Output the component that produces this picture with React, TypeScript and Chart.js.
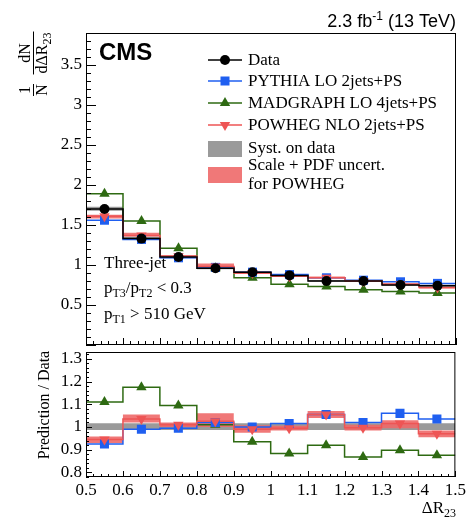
import React, { useEffect, useRef } from 'react';
import { Chart, registerables } from 'chart.js';
Chart.register(...registerables);

const SERIF = '"Liberation Serif", "DejaVu Serif", serif';
const SANS = '"Liberation Sans", Arial, sans-serif';

// ---- data ----
const binEdges = [0.5, 0.6, 0.7, 0.8, 0.9, 1.0, 1.1, 1.2, 1.3, 1.4, 1.5];
const binCenters = [0.55, 0.65, 0.75, 0.85, 0.95, 1.05, 1.15, 1.25, 1.35, 1.45];

const dataVals = [1.70, 1.33, 1.10, 0.96, 0.91, 0.87, 0.80, 0.80, 0.75, 0.74];
const pythiaVals = [1.56, 1.32, 1.09, 0.97, 0.91, 0.88, 0.84, 0.81, 0.79, 0.77];
const madgraphVals = [1.89, 1.55, 1.21, 0.96, 0.84, 0.76, 0.73, 0.69, 0.67, 0.65];
const powhegVals = [1.61, 1.37, 1.11, 0.98, 0.90, 0.86, 0.84, 0.80, 0.76, 0.72];

const systLo = [0.987, 0.987, 0.987, 0.987, 0.987, 0.987, 0.987, 0.987, 0.987, 0.987];
const systHi = [1.017, 1.017, 1.017, 1.017, 1.017, 1.017, 1.017, 1.017, 1.017, 1.017];

const pythiaRatio = [0.925, 0.99, 0.995, 1.02, 1.0, 1.015, 1.055, 1.02, 1.06, 1.035];
const madgraphRatio = [1.11, 1.175, 1.095, 1.01, 0.935, 0.883, 0.92, 0.868, 0.898, 0.876];
const powhegRatio = [0.945, 1.035, 1.01, 1.025, 0.99, 0.995, 1.055, 0.997, 1.015, 0.97];
const powhegBandLo = [0.93, 1.02, 1.0, 1.0, 0.975, 0.985, 1.04, 0.985, 0.995, 0.955];
const powhegBandHi = [0.958, 1.055, 1.02, 1.06, 1.008, 1.005, 1.07, 1.01, 1.03, 0.985];

const topYTicks = [0.5, 1, 1.5, 2, 2.5, 3, 3.5];
const ratioYTicks = [0.8, 0.9, 1, 1.1, 1.2, 1.3];
const xTicks = [0.5, 0.6, 0.7, 0.8, 0.9, 1, 1.1, 1.2, 1.3, 1.4, 1.5];

// ---- styles ----
const C_DATA = '#000000';
const C_PY = '#1f5ff0';
const C_MG = '#2e6a12';
const C_PW = '#ee5555';
const C_BAND = 'rgba(238,105,105,0.9)';
const C_GRAY = '#9a9a9a';

const stepPoints = (vals: number[]) =>
  binEdges.map((x, i) => ({ x, y: vals[Math.min(i, vals.length - 1)] }));
const markerPoints = (vals: number[]) => binCenters.map((x, i) => ({ x, y: vals[i] }));

type Seg = { t: string; size: number; dy?: number; bold?: boolean; fam?: string };

function drawRich(ctx: CanvasRenderingContext2D, segs: Seg[], x: number, y: number, align = 'left', fam = SERIF) {
  let total = 0;
  const widths = segs.map((s) => {
    ctx.font = `${s.bold ? 'bold ' : ''}${s.size}px ${s.fam || fam}`;
    const w = ctx.measureText(s.t).width;
    total += w;
    return w;
  });
  let cx = align === 'right' ? x - total : align === 'center' ? x - total / 2 : x;
  ctx.textAlign = 'left';
  segs.forEach((s, i) => {
    ctx.font = `${s.bold ? 'bold ' : ''}${s.size}px ${s.fam || fam}`;
    ctx.fillText(s.t, cx, y + (s.dy || 0));
    cx += widths[i];
  });
  return total;
}

function drawMarker(ctx: CanvasRenderingContext2D, shape: string, x: number, y: number, color: string) {
  ctx.fillStyle = color;
  ctx.beginPath();
  if (shape === 'circle') {
    ctx.arc(x, y, 5, 0, Math.PI * 2);
  } else if (shape === 'rect') {
    ctx.rect(x - 4.5, y - 4.5, 9, 9);
  } else if (shape === 'up') {
    const r = 6;
    ctx.moveTo(x, y - r);
    ctx.lineTo(x + r * 0.866, y + r / 2);
    ctx.lineTo(x - r * 0.866, y + r / 2);
    ctx.closePath();
  } else {
    const r = 6;
    ctx.moveTo(x, y + r);
    ctx.lineTo(x + r * 0.866, y - r / 2);
    ctx.lineTo(x - r * 0.866, y - r / 2);
    ctx.closePath();
  }
  ctx.fill();
}

function line(ctx: CanvasRenderingContext2D, x1: number, y1: number, x2: number, y2: number) {
  ctx.beginPath();
  ctx.moveTo(x1, y1);
  ctx.lineTo(x2, y2);
  ctx.stroke();
}

function frameAndTicks(chart: any, yMinor: number, yMajorEvery: number, yLen: [number, number], xLen: [number, number]) {
  const { ctx, chartArea: a, scales } = chart;
  ctx.save();
  ctx.strokeStyle = '#000';
  ctx.lineWidth = 1;
  ctx.strokeRect(a.left + 0.5, a.top + 0.5, a.right - a.left - 1, a.bottom - a.top - 1);
  const ys = scales.y;
  const yStart = Math.ceil(ys.min / yMinor - 1e-6);
  const yEnd = Math.floor(ys.max / yMinor + 1e-6);
  for (let k = yStart; k <= yEnd; k++) {
    const y = Math.round(ys.getPixelForValue(k * yMinor)) + 0.5;
    const len = k % yMajorEvery === 0 ? yLen[0] : yLen[1];
    line(ctx, a.left, y, a.left + len, y);
  }
  const xs = scales.x;
  for (let k = 0; k <= 50; k++) {
    const x = Math.round(xs.getPixelForValue(0.5 + k * 0.02)) + 0.5;
    const len = k % 5 === 0 ? xLen[0] : xLen[1];
    line(ctx, x, a.bottom, x, a.bottom - len);
  }
  ctx.restore();
}

function bandSets(lo: number[], hi: number[], color: string, order: number) {
  return [
    { type: 'line', data: stepPoints(lo), stepped: 'before', borderWidth: 0, pointRadius: 0, fill: false, order },
    { type: 'line', data: stepPoints(hi), stepped: 'before', borderWidth: 0, pointRadius: 0, fill: '-1', backgroundColor: color, order },
  ];
}
function stepSet(vals: number[], color: string, order: number, width = 1.5) {
  return { type: 'line', data: stepPoints(vals), stepped: 'before', borderColor: color, borderWidth: width, pointRadius: 0, fill: false, order };
}
function markerSet(vals: number[], color: string, style: string, radius: number, rotation: number, order: number) {
  return {
    type: 'line', data: markerPoints(vals), showLine: false, pointStyle: style, pointRadius: radius,
    pointRotation: rotation, pointBackgroundColor: color, pointBorderColor: color, pointBorderWidth: 0, order,
  };
}

const topTextPlugin = {
  id: 'topText',
  afterDraw(chart: any) {
    frameAndTicks(chart, 0.1, 5, [10, 5], [7, 4]);
    const ctx: CanvasRenderingContext2D = chart.ctx;
    ctx.save();
    ctx.fillStyle = '#000';
    ctx.textBaseline = 'alphabetic';
    drawRich(ctx, [
      { t: '2.3 fb', size: 18 },
      { t: '-1', size: 12, dy: -7 },
      { t: ' (13 TeV)', size: 18 },
    ], 456, 27, 'right', SANS);
    drawRich(ctx, [{ t: 'CMS', size: 24, bold: true }], 99, 60, 'left', SANS);
    ctx.save();
    ctx.translate(33, 64);
    ctx.rotate(-Math.PI / 2);
    ctx.strokeStyle = '#000';
    ctx.lineWidth = 1;
    drawRich(ctx, [{ t: '1', size: 16 }], -26, -3, 'center');
    drawRich(ctx, [{ t: 'N', size: 16 }], -26, 14, 'center');
    line(ctx, -32, 0.5, -20, 0.5);
    drawRich(ctx, [{ t: 'dN', size: 16 }], 11, -3, 'center');
    const w = drawRich(ctx, [{ t: 'dΔR', size: 16 }, { t: '23', size: 12, dy: 4 }], 11, 14, 'center');
    line(ctx, 11 - w / 2 - 1, 0.5, 11 + w / 2 + 1, 0.5);
    ctx.restore();

    const lx0 = 208, lx1 = 242, mx = 225, tx = 248;
    const entries: [string, string, string, number][] = [
      ['Data', C_DATA, 'circle', 60],
      ['PYTHIA LO 2jets+PS', C_PY, 'rect', 81],
      ['MADGRAPH LO 4jets+PS', C_MG, 'up', 103],
      ['POWHEG NLO 2jets+PS', C_PW, 'down', 125],
    ];
    entries.forEach(([label, color, shape, y]) => {
      ctx.strokeStyle = color;
      ctx.lineWidth = 1.5;
      line(ctx, lx0, y, lx1, y);
      drawMarker(ctx, shape, mx, y, color);
      ctx.fillStyle = '#000';
      ctx.textBaseline = 'middle';
      drawRich(ctx, [{ t: label, size: 17 }], tx, y + 1);
    });
    ctx.fillStyle = C_GRAY;
    ctx.fillRect(lx0, 141, lx1 - lx0, 16);
    ctx.fillStyle = C_BAND;
    ctx.fillRect(lx0, 167, lx1 - lx0, 16);
    ctx.fillStyle = '#000';
    ctx.textBaseline = 'middle';
    drawRich(ctx, [{ t: 'Syst. on data', size: 17 }], tx, 149);
    drawRich(ctx, [{ t: 'Scale + PDF uncert.', size: 17 }], tx, 166);
    drawRich(ctx, [{ t: 'for POWHEG', size: 17 }], tx, 185);

    ctx.textBaseline = 'alphabetic';
    drawRich(ctx, [{ t: 'Three-jet', size: 17 }], 104, 268);
    drawRich(ctx, [
      { t: 'p', size: 17 }, { t: 'T3', size: 12, dy: 4 }, { t: '/p', size: 17 }, { t: 'T2', size: 12, dy: 4 },
      { t: ' < 0.3', size: 17 },
    ], 104, 293);
    drawRich(ctx, [
      { t: 'p', size: 17 }, { t: 'T1', size: 12, dy: 4 }, { t: ' > 510 GeV', size: 17 },
    ], 104, 319);
    ctx.restore();
  },
};

const bottomTextPlugin = {
  id: 'bottomText',
  afterDraw(chart: any) {
    frameAndTicks(chart, 0.02, 5, [6, 3], [6, 3]);
    const ctx: CanvasRenderingContext2D = chart.ctx;
    ctx.save();
    ctx.fillStyle = '#000';
    ctx.textBaseline = 'alphabetic';
    ctx.save();
    ctx.translate(49, 405);
    ctx.rotate(-Math.PI / 2);
    drawRich(ctx, [{ t: 'Prediction / Data', size: 16 }], 0, 0, 'center');
    ctx.restore();
    drawRich(ctx, [{ t: 'ΔR', size: 17 }, { t: '23', size: 12, dy: 4 }], 456, 513, 'right');
    ctx.restore();
  },
};

export default function App() {
  const topRef = useRef<HTMLCanvasElement>(null);
  const botRef = useRef<HTMLCanvasElement>(null);

  useEffect(() => {
    const top = new Chart(topRef.current as HTMLCanvasElement, {
      type: 'line',
      data: {
        datasets: [
          ...bandSets(dataVals.map((v, i) => v * systLo[i]), dataVals.map((v, i) => v * systHi[i]), C_GRAY, 20),
          ...bandSets(dataVals.map((v, i) => v * powhegBandLo[i]), dataVals.map((v, i) => v * powhegBandHi[i]), C_BAND, 19),
          stepSet(madgraphVals, C_MG, 10),
          stepSet(pythiaVals, C_PY, 9),
          stepSet(powhegVals, C_PW, 8),
          stepSet(dataVals, C_DATA, 7),
          markerSet(madgraphVals, C_MG, 'triangle', 6, 0, 5),
          markerSet(pythiaVals, C_PY, 'rect', 6.4, 0, 4),
          markerSet(powhegVals, C_PW, 'triangle', 6, 180, 3),
          markerSet(dataVals, C_DATA, 'circle', 5, 0, 1),
        ] as any,
      },
      options: {
        responsive: false,
        animation: false,
        devicePixelRatio: 1,
        events: [],
        layout: { padding: { top: 33, bottom: 186, left: 0, right: 13 } },
        plugins: { legend: { display: false }, tooltip: { enabled: false } },
        scales: {
          x: { type: 'linear', min: 0.5, max: 1.5, display: false },
          y: {
            type: 'linear', min: 0, max: 3.9,
            grid: { display: false, drawTicks: false },
            border: { display: false },
            afterBuildTicks: (s: any) => { s.ticks = topYTicks.map((v) => ({ value: v })); },
            afterFit: (s: any) => { s.width = 86; },
            ticks: { font: { family: SERIF, size: 17 }, color: '#000', padding: 4, callback: (v: any) => String(v) },
          },
        },
      } as any,
      plugins: [topTextPlugin],
    });

    const bot = new Chart(botRef.current as HTMLCanvasElement, {
      type: 'line',
      data: {
        datasets: [
          ...bandSets(systLo, systHi, C_GRAY, 20),
          ...bandSets(powhegBandLo, powhegBandHi, C_BAND, 19),
          stepSet(madgraphRatio, C_MG, 10),
          stepSet(pythiaRatio, C_PY, 9),
          stepSet(powhegRatio, C_PW, 8),
          markerSet(madgraphRatio, C_MG, 'triangle', 6, 0, 5),
          markerSet(pythiaRatio, C_PY, 'rect', 6.4, 0, 4),
          markerSet(powhegRatio, C_PW, 'triangle', 6, 180, 3),
        ] as any,
      },
      options: {
        responsive: false,
        animation: false,
        devicePixelRatio: 1,
        events: [],
        layout: { padding: { top: 352, bottom: 0, left: 0, right: 13 } },
        plugins: { legend: { display: false }, tooltip: { enabled: false } },
        scales: {
          x: {
            type: 'linear', min: 0.5, max: 1.5,
            grid: { display: false, drawTicks: false },
            border: { display: false },
            afterBuildTicks: (s: any) => { s.ticks = xTicks.map((v) => ({ value: v })); },
            afterFit: (s: any) => { s.height = 54; },
            ticks: { font: { family: SERIF, size: 17 }, color: '#000', padding: 3, autoSkip: false, maxRotation: 0, minRotation: 0, callback: (v: any) => String(v) },
          },
          y: {
            type: 'linear', min: 0.78, max: 1.33,
            grid: { display: false, drawTicks: false },
            border: { display: false },
            afterBuildTicks: (s: any) => { s.ticks = ratioYTicks.map((v) => ({ value: v })); },
            afterFit: (s: any) => { s.width = 86; },
            ticks: { font: { family: SERIF, size: 17 }, color: '#000', padding: 4, callback: (v: any) => String(v) },
          },
        },
      } as any,
      plugins: [bottomTextPlugin],
    });

    return () => {
      top.destroy();
      bot.destroy();
    };
  }, []);

  const cs: React.CSSProperties = { position: 'absolute', left: 0, top: 0, width: 469, height: 531 };
  return (
    <div style={{ position: 'fixed', left: 0, top: 0, width: 469, height: 531, background: '#fff' }}>
      <canvas ref={topRef} width={469} height={531} style={cs} />
      <canvas ref={botRef} width={469} height={531} style={cs} />
    </div>
  );
}
